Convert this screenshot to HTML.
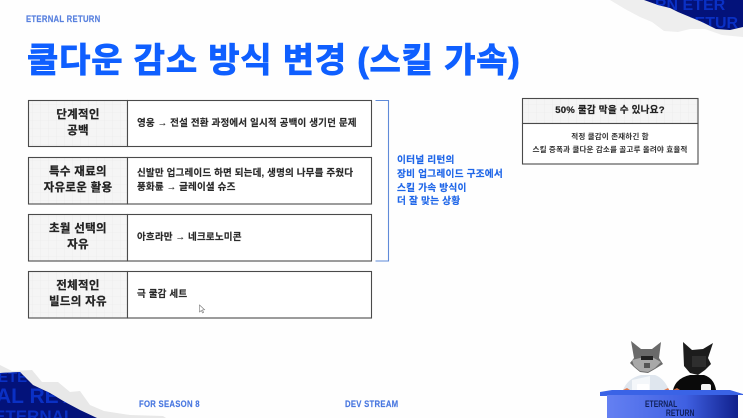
<!DOCTYPE html>
<html lang="ko">
<head>
<meta charset="utf-8">
<style>
html,body{margin:0;padding:0;background:#fefefe;}
#p{position:relative;width:743px;height:418px;overflow:hidden;background:#fefefe;font-family:"Liberation Sans","Noto Sans CJK KR",sans-serif;}
.t{position:absolute;white-space:nowrap;}
.c{text-align:center;transform:translateX(-50%);}
.h{font-size:11.5px;font-weight:700;color:#222;line-height:15.5px;letter-spacing:.3px;-webkit-text-stroke:.25px #222;}
.b{font-size:9.55px;font-weight:700;color:#2a2a2a;line-height:14px;letter-spacing:.15px;-webkit-text-stroke:.15px #2a2a2a;}
.f{font-weight:700;color:#4a78e0;font-size:8.8px;letter-spacing:.3px;transform:scaleX(.88);transform-origin:0 50%;-webkit-text-stroke:.15px #4a78e0;}
</style>
</head>
<body>
<div id="p">
<svg width="743" height="418" style="position:absolute;left:0;top:0">
  <defs>
    <pattern id="g" width="8" height="8" patternUnits="userSpaceOnUse"><rect width="8" height="8" fill="#f5f5f5"/><path d="M8 0H0V8" fill="none" stroke="#e9e9e9" stroke-width=".6"/></pattern>
    <linearGradient id="d" x1="0" x2="1"><stop offset="0" stop-color="#6480f2"/><stop offset=".6" stop-color="#3f60e2"/><stop offset="1" stop-color="#10208c"/></linearGradient>
    <clipPath id="tr"><path d="M644 0 L658 5 L670 8 L678 12 L690 17 L702 22 L716 29 L730 30 L743 27 L743 0Z"/></clipPath>
    <clipPath id="bl"><path d="M0 373 L20 372 L33 385 L50 393 L65 402 L80 410 L97 418 L0 418Z"/></clipPath>
  </defs>
  <!-- top-right torn corner -->
  <path d="M610 0 L625 9 L640 17 L652 22 L664 31 L678 32 L690 29 L705 29 L722 35 L743 37 L743 0Z" fill="#eeeeee"/>
  <path d="M644 0 L658 5 L670 8 L678 12 L690 17 L702 22 L716 29 L730 30 L743 27 L743 0Z" fill="#03127a"/>
  <g clip-path="url(#tr)" font-family="Liberation Sans" font-weight="700" fill="#0a30c4">
    <text x="655" y="10" font-size="16">RN ETER</text>
    <text x="683" y="28" font-size="16">RETUR</text>
  </g>
  <!-- bottom-left torn corner -->
  <path d="M0 365 L12 371 L32 370 L42 382 L58 382 L70 392 L80 391 L90 405 L104 411 L130 415 L163 416 L166 418 L0 418Z" fill="#e8e8e8"/>
  <path d="M0 373 L20 372 L33 385 L50 393 L65 402 L80 410 L97 418 L0 418Z" fill="#03127a"/>
  <g clip-path="url(#bl)" font-family="Liberation Sans" font-weight="700" fill="#0a30c4">
    <text x="-2" y="382" font-size="15">ETE</text>
    <text x="-4" y="403" font-size="21">AL RETU</text>
    <text x="-6" y="422" font-size="17">ETERNAL</text>
  </g>
  <!-- rows -->
  <g stroke="#4a4a4a" stroke-width="1.1">
    <rect x="28.5" y="100.5" width="99" height="46" fill="url(#g)"/><rect x="127.5" y="100.5" width="244" height="46" fill="#fff"/>
    <rect x="28.5" y="157.5" width="99" height="46.5" fill="url(#g)"/><rect x="127.5" y="157.5" width="244" height="46.5" fill="#fff"/>
    <rect x="28.5" y="214.5" width="99" height="46.5" fill="url(#g)"/><rect x="127.5" y="214.5" width="244" height="46.5" fill="#fff"/>
    <rect x="28.5" y="271.5" width="99" height="46.5" fill="url(#g)"/><rect x="127.5" y="271.5" width="244" height="46.5" fill="#fff"/>
    <rect x="522.5" y="98.5" width="175.5" height="25" fill="url(#g)"/><rect x="522.5" y="123.5" width="175.5" height="40.5" fill="#fff"/>
  </g>
  <!-- bracket -->
  <path d="M375.5 100.5H388.5V261H375.5" fill="none" stroke="#5f8ad8" stroke-width="1.1"/>
  <!-- cursor -->
  <path d="M199.5 305 L199.5 312 L201.3 310.5 L202.6 313 L203.6 312.4 L202.4 310 L204.6 309.8Z" fill="#fff" stroke="#777" stroke-width=".6"/>
  <!-- grey wolf -->
  <path d="M623 390 Q628 378 641 375 L655 375 Q664 378 669 390Z" fill="#dfe6ee"/>
  <path d="M632 391 L650 391 L650 376 L632 380Z" fill="#f4f7fa"/>
  <path d="M623 390 l4 -2 l3 2Z M664 390 l4 -2 l2 3Z" fill="#e07a50"/>
  <path d="M631 341 L641 349 L652 349 L661 342 L659 358 L663 364 L655 369 L648 373 L640 372 L634 367 L630 363 L634 358Z" fill="#6a6a6a"/>
  <path d="M632 360 L644 357 L652 357 L661 362 L655 368 L648 372 L640 371 L634 366Z" fill="#a8a8a8"/>
  <rect x="641" y="356" width="12" height="4" fill="#222"/>
  <rect x="644" y="363" width="6" height="5" fill="#555"/>
  <rect x="637" y="384" width="12" height="7" rx="1" fill="#fff"/>
  <!-- black wolf -->
  <path d="M673 390 Q676 378 690 375 L704 375 Q714 378 716 390Z" fill="#0a0a0a"/>
  <path d="M683 342 L692 350 L703 349 L713 343 L708 358 L711 364 L705 370 L698 375 L690 373 L684 366Z" fill="#1c1c1c"/>
  <rect x="692" y="356" width="14" height="11" fill="#2e2e2e"/>
  <path d="M673 390 l4 -2 l3 2Z" fill="#c96a45"/>
  <rect x="701" y="384" width="10" height="8" rx="2" fill="#f4f4f4"/>
  <!-- desk -->
  <path d="M600 392 L612 390 H730 L743 394 L743 395 L600 396Z" fill="#3a63e6"/>
  <path d="M607 395 H738 V418 H607Z" fill="url(#d)"/>
</svg>

<div class="t f" style="left:26px;top:14px;color:#5b82dd">ETERNAL RETURN</div>
<div class="t" style="left:27px;top:38px;font-size:34px;line-height:46px;font-weight:700;color:#0f5fff;letter-spacing:.85px;-webkit-text-stroke:.9px #0f5fff">쿨다운 감소 방식 변경 (스킬 가속)</div>

<div class="t c h" style="left:78px;top:108px">단계적인<br>공백</div>
<div class="t c h" style="left:78px;top:165px">특수 재료의<br>자유로운 활용</div>
<div class="t c h" style="left:78px;top:222px">초월 선택의<br>자유</div>
<div class="t c h" style="left:78px;top:279px">전체적인<br>빌드의 자유</div>

<div class="t b" style="left:137px;top:117px">영웅 → 전설 전환 과정에서 일시적 공백이 생기던 문제</div>
<div class="t b" style="left:137px;top:167px">신발만 업그레이드 하면 되는데, 생명의 나무를 주웠다<br>풍화륜 → 글레이셜 슈즈</div>
<div class="t b" style="left:137px;top:231px">아흐라만 → 네크로노미콘</div>
<div class="t b" style="left:137px;top:288px">극 쿨감 세트</div>

<div class="t" style="left:397px;top:154px;font-size:9.7px;line-height:13.8px;font-weight:700;color:#1f66e8;letter-spacing:.2px;-webkit-text-stroke:.15px #1f66e8">이터널 리턴의<br>장비 업그레이드 구조에서<br>스킬 가속 방식이<br>더 잘 맞는 상황</div>

<div class="t c" style="left:610px;top:103px;font-size:9.6px;line-height:16px;font-weight:700;color:#222;letter-spacing:.2px;-webkit-text-stroke:.2px #222">50% 쿨감 막을 수 있나요?</div>
<div class="t c" style="left:610px;top:130px;font-size:7.6px;line-height:13px;font-weight:700;color:#333;letter-spacing:.1px">적정 쿨감이 존재하긴 함<br>스킬 증폭과 쿨다운 감소를 골고루 올려야 효율적</div>

<div class="t f" style="left:139px;top:399px">FOR SEASON 8</div>
<div class="t f" style="left:345px;top:399px">DEV STREAM</div>
<div class="t" style="left:645px;top:401px;font-size:9.5px;line-height:8.5px;font-weight:700;color:#10205a;transform:scaleX(.72);transform-origin:0 0">ETERNAL<br><span style="margin-left:29px">RETURN</span></div>
</div>
</body>
</html>
